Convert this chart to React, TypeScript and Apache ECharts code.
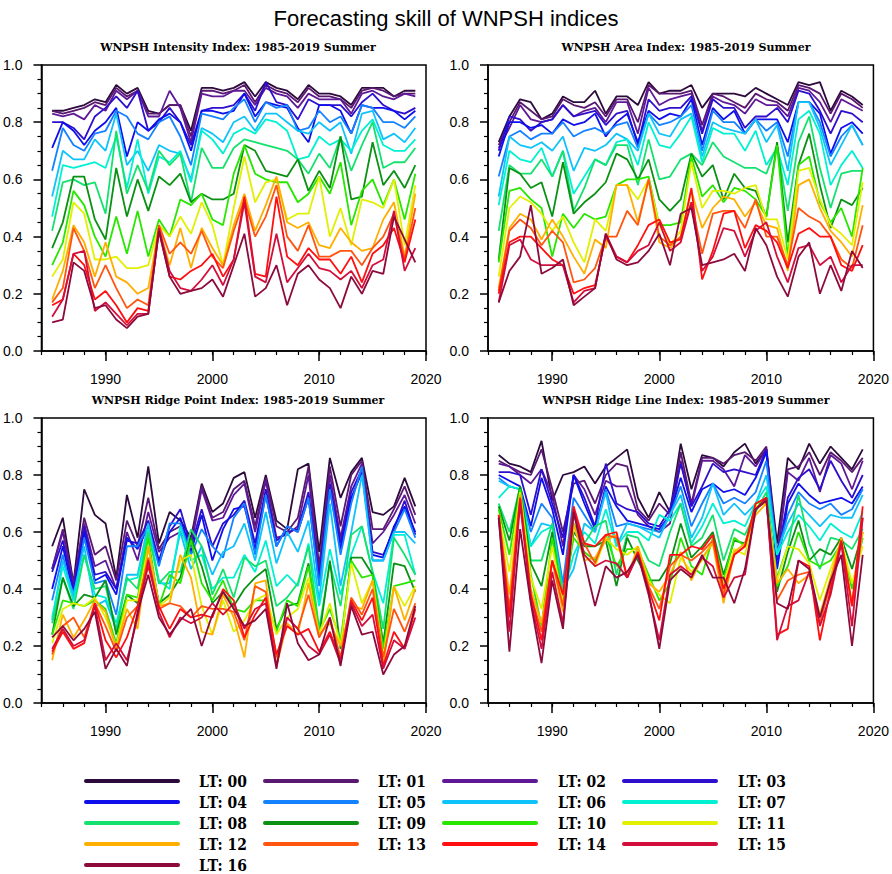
import React, { useEffect, useRef } from "react";
import * as echarts from "echarts";

// ---------------- data ----------------
const YEARS = [1985, 1986, 1987, 1988, 1989, 1990, 1991, 1992, 1993, 1994, 1995, 1996, 1997, 1998, 1999, 2000, 2001, 2002, 2003, 2004, 2005, 2006, 2007, 2008, 2009, 2010, 2011, 2012, 2013, 2014, 2015, 2016, 2017, 2018, 2019];
const LEAD_TIMES = ["LT: 00", "LT: 01", "LT: 02", "LT: 03", "LT: 04", "LT: 05", "LT: 06", "LT: 07", "LT: 08", "LT: 09", "LT: 10", "LT: 11", "LT: 12", "LT: 13", "LT: 14", "LT: 15", "LT: 16"];
const X_TICK_LABELS = [1990, 2000, 2010, 2020];
const PANEL_TITLES = [
  "WNPSH Intensity Index: 1985-2019 Summer",
  "WNPSH Area Index: 1985-2019 Summer",
  "WNPSH Ridge Point Index: 1985-2019 Summer",
  "WNPSH Ridge Line Index: 1985-2019 Summer",
];

// each row = one year (1985..2019), columns = LT 00 .. LT 16
const INTENSITY = [
  [.84, .84, .83, .80, .71, .63, .54, .47, .42, .36, .30, .26, .18, .17, .16, .12, .10],
  [.84, .83, .82, .80, .80, .78, .70, .65, .59, .45, .38, .32, .28, .22, .18, .18, .11],
  [.85, .84, .83, .78, .77, .72, .67, .64, .60, .61, .56, .52, .44, .43, .34, .34, .31],
  [.86, .85, .81, .74, .72, .70, .67, .65, .58, .61, .51, .48, .38, .35, .30, .35, .28],
  [.88, .87, .86, .82, .77, .76, .74, .66, .59, .46, .40, .32, .26, .22, .18, .14, .15],
  [.87, .86, .84, .85, .80, .77, .70, .64, .48, .39, .33, .32, .38, .30, .21, .17, .16],
  [.93, .92, .91, .89, .85, .84, .83, .75, .77, .64, .47, .33, .26, .22, .16, .13, .11],
  [.90, .89, .88, .85, .68, .82, .65, .57, .55, .47, .34, .29, .24, .15, .10, .09, .08],
  [.92, .91, .91, .91, .80, .76, .70, .74, .65, .60, .49, .29, .20, .18, .15, .13, .12],
  [.84, .83, .82, .77, .77, .74, .63, .55, .56, .49, .33, .30, .22, .16, .14, .13, .13],
  [.83, .83, .82, .80, .81, .80, .72, .68, .70, .61, .46, .44, .43, .44, .42, .43, .42],
  [.86, .86, .91, .85, .83, .82, .70, .66, .65, .58, .40, .40, .30, .34, .26, .28, .26],
  [.86, .86, .85, .80, .80, .75, .69, .70, .69, .62, .53, .47, .43, .38, .25, .22, .20],
  [.77, .75, .73, .72, .70, .65, .60, .59, .52, .52, .51, .41, .29, .34, .28, .21, .21],
  [.92, .91, .90, .84, .84, .83, .78, .77, .71, .55, .55, .52, .43, .42, .30, .25, .22],
  [.92, .91, .89, .85, .84, .82, .76, .74, .64, .53, .46, .44, .36, .33, .34, .30, .25],
  [.91, .90, .89, .85, .83, .81, .73, .69, .64, .53, .44, .30, .30, .29, .26, .23, .19],
  [.92, .91, .91, .86, .84, .85, .80, .76, .71, .55, .62, .50, .44, .42, .32, .32, .30],
  [.94, .93, .91, .90, .90, .88, .82, .78, .74, .72, .72, .68, .55, .53, .54, .52, .41],
  [.89, .87, .86, .84, .82, .80, .77, .76, .73, .70, .62, .52, .42, .40, .27, .26, .19],
  [.94, .93, .92, .94, .87, .87, .83, .81, .72, .63, .60, .59, .51, .47, .26, .24, .22],
  [.92, .91, .90, .87, .86, .85, .83, .80, .71, .62, .59, .60, .61, .58, .54, .41, .30],
  [.91, .90, .89, .86, .85, .86, .80, .77, .70, .61, .59, .46, .45, .40, .33, .24, .16],
  [.88, .87, .85, .81, .78, .77, .77, .67, .67, .67, .52, .48, .43, .35, .30, .29, .27],
  [.93, .92, .90, .88, .73, .78, .76, .68, .62, .56, .55, .48, .45, .44, .36, .34, .30],
  [.90, .89, .88, .86, .86, .84, .80, .75, .69, .63, .61, .61, .37, .33, .32, .29, .25],
  [.90, .89, .88, .86, .86, .80, .77, .72, .64, .57, .55, .40, .36, .33, .32, .28, .22],
  [.89, .88, .88, .86, .84, .82, .80, .74, .75, .75, .66, .50, .43, .35, .27, .25, .15],
  [.86, .85, .83, .82, .76, .76, .69, .70, .63, .53, .44, .37, .38, .35, .33, .28, .26],
  [.92, .91, .90, .87, .86, .86, .83, .77, .72, .54, .56, .53, .35, .30, .24, .22, .20],
  [.92, .92, .91, .90, .85, .85, .84, .81, .80, .73, .60, .52, .36, .36, .34, .30, .28],
  [.92, .91, .89, .86, .85, .80, .74, .72, .64, .58, .51, .50, .46, .40, .37, .32, .27],
  [.89, .89, .88, .84, .84, .80, .76, .70, .66, .63, .60, .60, .52, .48, .43, .49, .47],
  [.91, .90, .90, .83, .81, .78, .73, .70, .66, .57, .46, .37, .33, .32, .31, .28, .39],
  [.91, .90, .89, .85, .84, .82, .78, .74, .71, .65, .62, .58, .55, .50, .46, .36, .31],
];

const AREA = [
  [.73, .72, .71, .70, .68, .61, .54, .51, .42, .32, .31, .26, .22, .21, .20, .17, .17],
  [.82, .80, .78, .82, .80, .75, .75, .70, .65, .64, .56, .50, .43, .42, .38, .37, .28],
  [.88, .87, .86, .81, .80, .77, .72, .67, .62, .62, .57, .54, .48, .46, .40, .39, .33],
  [.87, .84, .81, .77, .78, .74, .71, .66, .62, .57, .53, .52, .46, .43, .40, .32, .51],
  [.81, .81, .80, .80, .79, .76, .73, .71, .67, .59, .50, .48, .39, .37, .36, .30, .27],
  [.83, .82, .81, .81, .76, .76, .70, .61, .61, .47, .33, .42, .46, .42, .32, .30, .29],
  [.89, .88, .86, .86, .81, .80, .75, .70, .70, .66, .48, .47, .40, .38, .30, .30, .32],
  [.87, .86, .82, .82, .79, .75, .63, .55, .49, .48, .43, .38, .33, .24, .20, .17, .16],
  [.87, .85, .84, .83, .80, .77, .71, .61, .57, .52, .48, .31, .27, .25, .22, .21, .19],
  [.91, .87, .85, .84, .83, .78, .70, .67, .67, .55, .46, .46, .39, .29, .23, .22, .22],
  [.83, .82, .80, .79, .75, .76, .72, .65, .65, .59, .47, .42, .36, .40, .40, .41, .41],
  [.89, .88, .87, .83, .80, .79, .76, .73, .72, .69, .58, .58, .58, .40, .33, .33, .32],
  [.89, .88, .87, .84, .83, .80, .74, .74, .72, .67, .60, .58, .58, .49, .31, .31, .30],
  [.86, .80, .76, .72, .73, .71, .70, .65, .58, .60, .60, .53, .45, .44, .37, .35, .31],
  [.94, .93, .92, .88, .84, .83, .83, .80, .74, .67, .61, .60, .60, .60, .44, .37, .35],
  [.90, .90, .86, .84, .81, .79, .76, .72, .60, .53, .44, .44, .38, .40, .46, .45, .41],
  [.91, .90, .88, .85, .83, .80, .75, .71, .61, .49, .44, .37, .36, .37, .38, .35, .30],
  [.91, .90, .89, .85, .82, .82, .81, .76, .67, .53, .45, .42, .40, .40, .39, .38, .48],
  [.93, .91, .90, .89, .88, .86, .83, .82, .69, .69, .68, .66, .56, .52, .57, .52, .50],
  [.85, .79, .77, .76, .72, .70, .68, .66, .65, .61, .54, .50, .43, .34, .25, .28, .30],
  [.90, .90, .89, .88, .85, .84, .80, .78, .73, .65, .58, .56, .50, .48, .35, .33, .31],
  [.90, .89, .87, .85, .81, .80, .78, .76, .68, .53, .52, .56, .54, .49, .48, .43, .32],
  [.90, .87, .86, .85, .84, .80, .77, .76, .66, .62, .57, .55, .53, .49, .49, .42, .34],
  [.89, .85, .83, .78, .76, .76, .76, .70, .64, .57, .56, .57, .47, .43, .36, .33, .28],
  [.92, .90, .88, .82, .81, .81, .81, .77, .64, .56, .53, .58, .52, .53, .44, .42, .43],
  [.90, .88, .86, .82, .81, .77, .73, .65, .62, .47, .47, .46, .44, .40, .42, .45, .37],
  [.88, .87, .86, .85, .81, .80, .79, .71, .72, .73, .72, .46, .43, .40, .38, .33, .26],
  [.86, .84, .82, .80, .73, .68, .63, .58, .49, .38, .33, .32, .28, .30, .29, .24, .19],
  [.94, .93, .92, .91, .87, .87, .87, .81, .73, .65, .65, .63, .58, .50, .41, .36, .33],
  [.93, .92, .91, .90, .87, .87, .87, .84, .82, .76, .68, .64, .60, .47, .43, .37, .38],
  [.94, .90, .87, .84, .83, .80, .78, .76, .64, .58, .52, .53, .50, .45, .40, .30, .20],
  [.84, .83, .80, .76, .69, .68, .65, .58, .50, .43, .45, .44, .42, .40, .40, .33, .30],
  [.91, .90, .88, .84, .78, .75, .72, .65, .62, .53, .50, .41, .38, .32, .30, .24, .21],
  [.89, .88, .86, .83, .80, .79, .79, .70, .63, .51, .40, .37, .33, .29, .28, .30, .35],
  [.86, .85, .84, .80, .76, .72, .72, .64, .63, .57, .64, .59, .51, .44, .37, .30, .29],
];

const RIDGE_POINT = [
  [.55, .47, .47, .46, .40, .36, .29, .30, .28, .24, .24, .21, .15, .17, .18, .19, .23],
  [.65, .61, .60, .57, .55, .52, .50, .48, .44, .44, .36, .33, .31, .27, .25, .26, .27],
  [.42, .41, .42, .40, .38, .36, .38, .36, .33, .34, .35, .35, .23, .30, .19, .20, .22],
  [.75, .65, .63, .62, .60, .58, .55, .52, .52, .38, .34, .34, .29, .23, .21, .22, .26],
  [.66, .52, .48, .45, .43, .42, .34, .38, .40, .37, .36, .37, .36, .35, .35, .34, .32],
  [.63, .55, .50, .46, .45, .43, .36, .37, .41, .43, .33, .30, .32, .27, .22, .15, .12],
  [.44, .43, .40, .40, .38, .31, .26, .28, .25, .24, .21, .20, .19, .18, .16, .21, .19],
  [.73, .64, .60, .57, .58, .55, .45, .43, .44, .38, .38, .36, .33, .30, .23, .15, .13],
  [.58, .55, .50, .56, .54, .55, .45, .44, .40, .35, .37, .36, .26, .34, .34, .30, .32],
  [.83, .72, .67, .64, .62, .62, .63, .61, .60, .55, .58, .55, .55, .51, .48, .50, .45],
  [.56, .54, .53, .50, .49, .48, .42, .43, .42, .35, .34, .34, .34, .33, .34, .32, .30],
  [.67, .60, .58, .62, .60, .63, .42, .40, .46, .38, .45, .37, .35, .35, .26, .23, .24],
  [.64, .62, .60, .68, .65, .63, .60, .62, .46, .44, .42, .50, .52, .34, .33, .30, .29],
  [.58, .57, .55, .55, .53, .52, .47, .50, .61, .58, .57, .52, .44, .30, .30, .28, .33],
  [.77, .76, .75, .68, .66, .61, .55, .52, .55, .48, .42, .34, .25, .34, .31, .30, .20],
  [.67, .65, .64, .55, .50, .55, .45, .40, .38, .35, .36, .24, .24, .33, .30, .35, .31],
  [.70, .67, .65, .63, .61, .51, .53, .44, .47, .39, .43, .36, .38, .33, .40, .31, .39],
  [.79, .75, .73, .66, .68, .65, .55, .44, .37, .34, .33, .25, .30, .32, .36, .35, .33],
  [.81, .78, .77, .71, .69, .70, .63, .52, .51, .40, .32, .29, .16, .22, .23, .26, .27],
  [.65, .62, .60, .56, .54, .52, .50, .46, .48, .44, .36, .36, .42, .41, .31, .33, .29],
  [.80, .79, .78, .75, .73, .73, .67, .57, .50, .47, .36, .38, .43, .39, .37, .35, .33],
  [.64, .62, .58, .57, .55, .55, .49, .41, .34, .26, .25, .24, .13, .16, .17, .13, .12],
  [.61, .60, .59, .60, .62, .62, .60, .45, .37, .34, .36, .30, .28, .30, .27, .30, .35],
  [.82, .65, .62, .61, .60, .60, .53, .41, .42, .35, .34, .33, .24, .26, .24, .26, .21],
  [.84, .83, .80, .74, .72, .72, .64, .56, .55, .49, .48, .44, .42, .38, .26, .20, .15],
  [.53, .48, .45, .44, .42, .41, .36, .34, .26, .23, .25, .24, .24, .23, .18, .17, .17],
  [.86, .83, .80, .77, .75, .75, .70, .54, .49, .50, .33, .35, .28, .30, .25, .24, .30],
  [.72, .62, .58, .56, .54, .52, .41, .38, .34, .19, .22, .20, .20, .16, .15, .14, .13],
  [.81, .80, .76, .74, .72, .70, .60, .52, .59, .51, .50, .49, .34, .37, .36, .35, .34],
  [.86, .85, .84, .82, .81, .83, .80, .62, .62, .51, .44, .35, .33, .31, .29, .27, .24],
  [.67, .61, .56, .53, .52, .50, .50, .46, .46, .45, .45, .43, .43, .40, .37, .31, .25],
  [.66, .61, .60, .52, .51, .50, .50, .35, .26, .21, .19, .16, .13, .16, .13, .12, .10],
  [.69, .68, .66, .61, .62, .60, .60, .59, .58, .49, .41, .41, .41, .33, .25, .22, .17],
  [.79, .76, .73, .71, .69, .68, .60, .59, .52, .48, .42, .34, .29, .25, .19, .19, .20],
  [.69, .66, .63, .59, .60, .58, .56, .45, .45, .39, .43, .41, .40, .35, .33, .30, .34],
];

const RIDGE_LINE = [
  [.87, .85, .84, .81, .80, .79, .78, .72, .70, .69, .68, .66, .66, .66, .66, .65, .65],
  [.84, .83, .83, .81, .78, .76, .76, .76, .60, .57, .52, .46, .38, .33, .30, .25, .18],
  [.83, .81, .80, .80, .76, .75, .75, .75, .76, .76, .75, .74, .73, .72, .72, .70, .61],
  [.81, .80, .77, .66, .62, .60, .55, .55, .50, .49, .45, .44, .40, .38, .38, .36, .35],
  [.92, .89, .82, .82, .79, .70, .63, .60, .50, .41, .27, .33, .28, .25, .22, .19, .14],
  [.71, .75, .73, .70, .68, .65, .62, .62, .63, .60, .58, .55, .50, .50, .50, .46, .43],
  [.80, .60, .55, .58, .52, .42, .40, .38, .38, .33, .36, .35, .32, .34, .38, .28, .26],
  [.81, .77, .80, .80, .80, .72, .47, .52, .63, .60, .58, .62, .63, .66, .69, .68, .67],
  [.83, .78, .75, .72, .70, .66, .63, .60, .56, .55, .53, .52, .50, .56, .56, .52, .50],
  [.77, .70, .66, .62, .61, .60, .60, .56, .62, .55, .50, .48, .51, .49, .55, .48, .34],
  [.83, .80, .78, .84, .76, .75, .74, .68, .64, .57, .59, .58, .57, .59, .59, .50, .48],
  [.86, .84, .76, .70, .69, .62, .55, .55, .45, .41, .48, .54, .59, .58, .60, .49, .44],
  [.89, .83, .76, .68, .64, .63, .63, .60, .59, .58, .54, .52, .44, .44, .44, .44, .46],
  [.72, .68, .66, .67, .63, .62, .62, .60, .58, .50, .54, .55, .55, .53, .53, .52, .52],
  [.65, .64, .62, .63, .62, .61, .60, .57, .50, .43, .45, .43, .42, .41, .40, .38, .39],
  [.74, .70, .60, .62, .61, .60, .58, .66, .48, .43, .36, .38, .39, .33, .29, .22, .19],
  [.67, .66, .63, .68, .66, .66, .66, .64, .60, .49, .42, .35, .45, .48, .52, .45, .43],
  [.91, .88, .85, .84, .79, .76, .73, .70, .70, .63, .58, .51, .53, .52, .52, .48, .47],
  [.75, .70, .69, .69, .67, .62, .58, .56, .55, .51, .48, .46, .43, .50, .55, .45, .44],
  [.87, .86, .85, .76, .75, .70, .65, .62, .58, .55, .45, .50, .51, .53, .54, .51, .52],
  [.86, .86, .85, .84, .77, .77, .77, .70, .66, .60, .58, .57, .56, .57, .59, .48, .44],
  [.83, .84, .82, .81, .74, .70, .66, .63, .50, .45, .43, .42, .35, .38, .40, .37, .44],
  [.88, .87, .76, .82, .75, .72, .70, .64, .61, .57, .58, .54, .53, .52, .52, .44, .35],
  [.91, .88, .87, .81, .73, .70, .66, .62, .59, .56, .55, .52, .56, .55, .55, .45, .47],
  [.84, .85, .83, .80, .79, .74, .70, .70, .67, .68, .70, .69, .66, .68, .70, .68, .68],
  [.89, .90, .89, .89, .88, .85, .80, .76, .74, .72, .71, .70, .70, .71, .72, .72, .71],
  [.56, .52, .50, .50, .47, .52, .53, .52, .44, .39, .41, .43, .42, .36, .24, .22, .35],
  [.86, .82, .81, .72, .70, .66, .63, .60, .55, .53, .48, .55, .47, .43, .26, .34, .33],
  [.82, .83, .78, .79, .77, .74, .70, .66, .73, .64, .60, .54, .42, .45, .50, .36, .50],
  [.91, .88, .86, .82, .73, .70, .66, .62, .56, .50, .50, .49, .45, .46, .48, .46, .47],
  [.84, .80, .74, .75, .70, .68, .62, .57, .47, .54, .48, .36, .31, .28, .22, .27, .30],
  [.90, .88, .87, .85, .71, .70, .66, .63, .58, .52, .50, .47, .44, .42, .40, .38, .43],
  [.86, .85, .84, .78, .72, .66, .65, .60, .57, .58, .56, .57, .58, .57, .57, .56, .52],
  [.82, .81, .75, .72, .70, .68, .65, .58, .54, .47, .40, .42, .35, .34, .34, .27, .20],
  [.89, .86, .85, .80, .76, .75, .73, .67, .61, .60, .58, .55, .60, .65, .69, .65, .52],
];

const PANELS = [INTENSITY, AREA, RIDGE_POINT, RIDGE_LINE];

// ---------------- styles ----------------
const COLORS = [
  "#2d0a3c", "#5a1970", "#5f1996", "#2d0fcd", "#0f0feb", "#1482ff", "#0fc3fa", "#00f0d2",
  "#14e16e", "#0a9114", "#28e600", "#e1f000", "#ffaf00", "#ff550f", "#ff0f0f", "#d20f3c", "#8c0a3c",
];

const GRIDS = [
  { left: 40, top: 65, width: 386, height: 286 },
  { left: 488, top: 65, width: 386, height: 286 },
  { left: 40, top: 418, width: 386, height: 285 },
  { left: 488, top: 418, width: 386, height: 285 },
];

const LEGEND_LINE_X = [86, 265, 444, 624];
const LEGEND_TEXT_X = [199, 378, 558, 738];
const LEGEND_ROW_Y = [781, 802, 823, 844, 865];

function buildOption() {
  const grid = GRIDS.map((g) => ({
    ...g,
    show: true,
    borderColor: "#000",
    borderWidth: 1.5,
    backgroundColor: "transparent",
  }));

  const xAxis: any[] = [];
  const yAxis: any[] = [];
  GRIDS.forEach((_, gi) => {
    xAxis.push({
      type: "value",
      gridIndex: gi,
      min: 1984,
      max: 2020,
      axisLine: { show: true, onZero: false, lineStyle: { color: "#000", width: 1.5 } },
      axisTick: { show: true, inside: false, length: 10, customValues: X_TICK_LABELS, lineStyle: { color: "#000", width: 1.5 } },
      axisLabel: {
        show: true,
        customValues: X_TICK_LABELS,
        margin: 21,
        fontSize: 14,
        fontFamily: "Liberation Sans, Arial, sans-serif",
        color: "#000",
        formatter: (v: number) => String(v),
      },
      splitLine: { show: false },
    });
    xAxis.push({
      type: "value",
      gridIndex: gi,
      min: 1984,
      max: 2020,
      interval: 2,
      position: "bottom",
      axisLine: { show: false, onZero: false },
      axisTick: { show: true, inside: false, length: 4, lineStyle: { color: "#000", width: 1.2 } },
      axisLabel: { show: false },
      splitLine: { show: false },
    });
    yAxis.push({
      type: "value",
      gridIndex: gi,
      min: 0,
      max: 1,
      interval: 0.2,
      axisLine: { show: true, onZero: false, lineStyle: { color: "#000", width: 1.5 } },
      axisTick: { show: true, inside: false, length: 8, lineStyle: { color: "#000", width: 1.5 } },
      minorTick: { show: true, splitNumber: 4, length: 4, lineStyle: { color: "#000", width: 1.2 } },
      axisLabel: {
        margin: 19,
        fontSize: 14,
        fontFamily: "Liberation Sans, Arial, sans-serif",
        color: "#000",
        formatter: (v: number) => v.toFixed(1),
      },
      splitLine: { show: false },
      minorSplitLine: { show: false },
    });
  });

  const series: any[] = [];
  PANELS.forEach((rows, pi) => {
    LEAD_TIMES.forEach((name, k) => {
      series.push({
        type: "line",
        name,
        xAxisIndex: pi * 2,
        yAxisIndex: pi,
        data: YEARS.map((yr, i) => [yr, rows[i][k]]),
        showSymbol: false,
        symbol: "none",
        silent: true,
        lineStyle: { color: COLORS[k], width: 1.8 },
        itemStyle: { color: COLORS[k] },
        z: 2 + k * 0.01,
      });
    });
  });

  const title: any[] = [
    {
      text: "Forecasting skill of WNPSH indices",
      left: "center",
      top: 2,
      textStyle: { fontFamily: "Liberation Sans, Arial, sans-serif", fontSize: 22, fontWeight: "normal", color: "#000" },
    },
  ];
  PANEL_TITLES.forEach((t, i) => {
    const g = GRIDS[i];
    title.push({
      text: t,
      left: g.left + g.width / 2,
      textAlign: "center",
      top: g.top - 28,
      textStyle: { fontFamily: "DejaVu Serif", fontSize: 11, fontWeight: "bold", color: "#000" },
    });
  });

  const graphic: any[] = [];
  LEAD_TIMES.forEach((name, k) => {
    const col = k % 4;
    const row = Math.floor(k / 4);
    const y = LEGEND_ROW_Y[row];
    graphic.push({
      type: "line",
      shape: { x1: LEGEND_LINE_X[col], y1: y, x2: LEGEND_LINE_X[col] + 92, y2: y },
      style: { stroke: COLORS[k], lineWidth: 4, lineCap: "round" },
      silent: true,
    });
    graphic.push({
      type: "text",
      x: LEGEND_TEXT_X[col],
      y: y,
      scaleX: 0.82,
      style: {
        text: name,
        fontFamily: "DejaVu Serif",
        fontWeight: "bold",
        fontSize: 17,
        fill: "#000",
        verticalAlign: "middle",
        align: "left",
      },
      silent: true,
    });
  });

  return {
    animation: false,
    backgroundColor: "#fff",
    title,
    grid,
    xAxis,
    yAxis,
    series,
    graphic,
  };
}

export default function App() {
  const ref = useRef<HTMLDivElement>(null);
  useEffect(() => {
    if (!ref.current) return;
    const chart = echarts.init(ref.current, undefined, { renderer: "svg" });
    chart.setOption(buildOption() as any);
    return () => chart.dispose();
  }, []);
  return (
    <div
      ref={ref}
      style={{ position: "fixed", left: 0, top: 0, width: 892, height: 874, background: "#fff" }}
    />
  );
}
